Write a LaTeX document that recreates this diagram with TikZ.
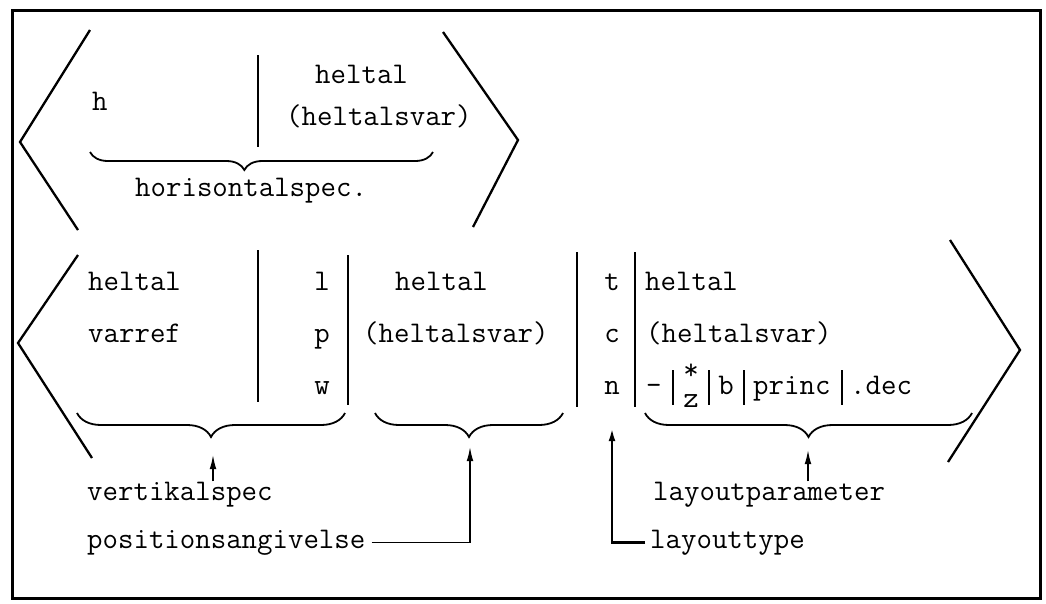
\documentclass[tikz,border=0pt]{standalone}
\usepackage{fontspec}
\usetikzlibrary{arrows.meta, decorations.pathreplacing, positioning}
\tikzset{>={Latex[width=2.4mm,length=5mm]}}
\newcommand{\tw}{\fontsize{30}{35}\selectfont\ttfamily}

\begin{document}
\begin{tikzpicture}[x=1pt, y=-1pt,
      txt/.style = {font=\tw, inner sep=0pt, anchor=base west},
      mid/.style = {font=\tw, inner sep=0pt, anchor=base},
      sep/.style = {line width=2pt},
      angle/.style = {line width=2.3pt, line join=miter},
      curly/.style = {decorate, decoration={brace, mirror, amplitude=#1}, line width=1.8pt},
      curly/.default = 24pt,
      ptr/.style = {->, line width=1.5pt}
    ]
    \useasboundingbox (0,0) rectangle (1046,603);
    \draw[line width=3pt] (12,10) rectangle (1040,598);

    % horisontal part
    \draw[angle] (90,30) -- (20,142) -- (78,230);
    \draw[angle] (443,32) -- (518,140) -- (473,227);
    \node[txt] (h) at (92,110) {h};
    \node[txt] (hint) at (315,83) {heltal};
    \node[txt] (hvar) at (286,125) {(heltalsvar)};
    \draw[sep] (258,55) -- (258,147);
    \draw[curly=18pt, decoration={aspect=0.45}] (90,152) -- (433,152);
    \node[txt] (hspec) at (135,196) {horisontalspec.};

    % vertikal part
    \draw[angle] (78,255) -- (18,343) -- (92,458);
    \draw[angle] (950,240) -- (1020,350) -- (948,462);

    \node[txt] (vint) at (88,290) {heltal};
    \node[txt] (vref) at (88,342) {varref};
    \draw[sep] (258,250) -- (258,402);
    \node[mid] (l) at (322,290) {l};
    \node[mid] (p) at (322,342) {p};
    \node[mid] (w) at (322,394) {w};
    \draw[sep] (348,255) -- (348,405);
    \node[txt] (pint) at (395,290) {heltal};
    \node[txt] (pvar) at (363,342) {(heltalsvar)};
    \draw[sep] (577,252) -- (577,407);
    \node[mid] (t) at (612,290) {t};
    \node[mid] (c) at (612,342) {c};
    \node[mid] (n) at (612,394) {n};
    \draw[sep] (635,252) -- (635,407);
    \node[txt] (lint) at (645,290) {heltal};
    \node[txt] (lvar) at (646,342) {(heltalsvar)};
    \node[txt] (minus) at (646,394) {-};
    \draw[sep] (673,370) -- (673,405);
    \node[mid] (star) at (691,379) {*};
    \node[mid] (z) at (691,407) {z};
    \draw[sep] (709,370) -- (709,405);
    \node[mid] (b) at (726,394) {b};
    \draw[sep] (744,370) -- (744,405);
    \node[txt] (princ) at (753,394) {princ};
    \draw[sep] (842,370) -- (842,405);
    \node[txt] (dec) at (850,394) {.dec};

    \draw[curly] (77,413) -- (345,413);
    \draw[curly] (375,413) -- (563,413);
    \draw[curly] (645,413) -- (972,413);

    % labels
    \coordinate (vtip) at (213,455);
    \coordinate (ptip) at (470,447);
    \coordinate (ttip) at (612,427);
    \coordinate (ltip) at (808,450);
    \node[txt] (vspec) at (87,500) {vertikalspec};
    \node[txt] (pos) at (87,548) {positionsangivelse};
    \node[txt] (lpar) at (653,500) {layoutparameter};
    \node[txt] (ltype) at (650,548) {layouttype};

    \draw[ptr] (vspec.north -| vtip) -- (vtip);
    \draw[ptr, shorten <=6pt] (pos.east) -| (ptip);
    \draw[ptr, line width=2.6pt, shorten <=5pt] (ltype.west) -| (ttip);
    \draw[ptr] (lpar.north -| ltip) -- (ltip);
\end{tikzpicture}
\end{document}
